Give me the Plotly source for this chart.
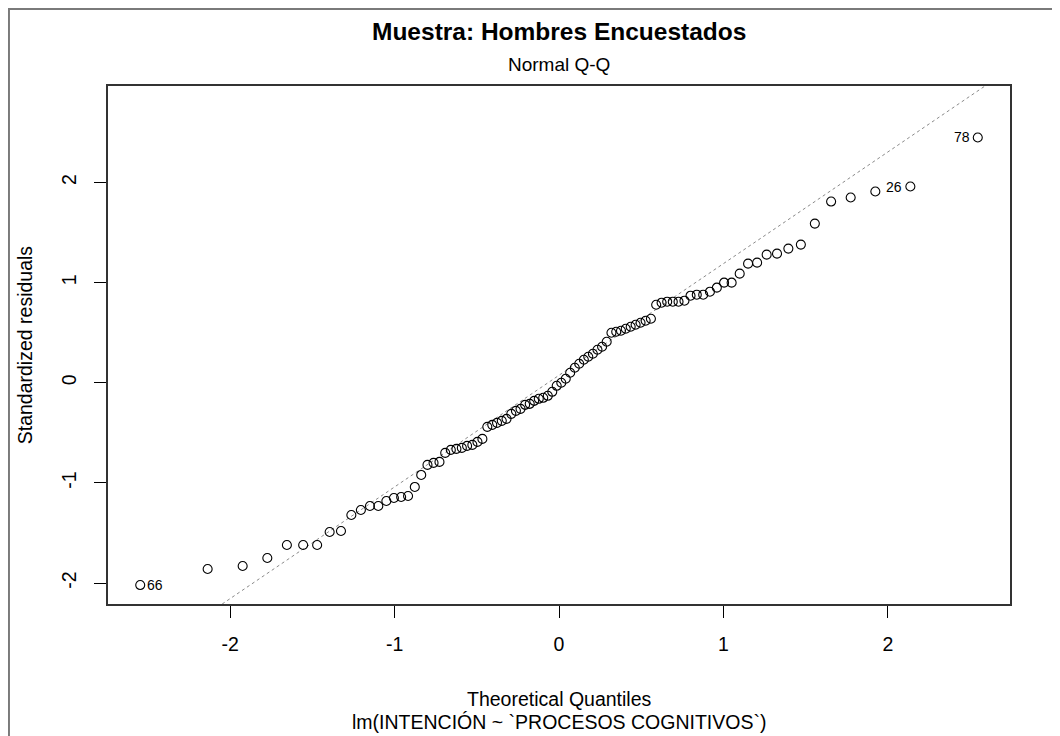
import plotly.graph_objects as go

# Theoretical normal quantiles (x) and sorted standardized residuals (y)
theoretical = [-2.547, -2.137, -1.924, -1.774, -1.655, -1.556, -1.471, -1.395, -1.326, -1.263,
               -1.205, -1.150, -1.099, -1.050, -1.004, -0.960, -0.918, -0.877, -0.838, -0.800,
               -0.763, -0.727, -0.692, -0.658, -0.624, -0.591, -0.559, -0.527, -0.496, -0.466,
               -0.436, -0.406, -0.377, -0.348, -0.319, -0.290, -0.262, -0.234, -0.206, -0.178,
               -0.151, -0.123, -0.096, -0.068, -0.041, -0.014,
               0.014, 0.041, 0.068, 0.096, 0.123, 0.151, 0.178, 0.206, 0.234, 0.262,
               0.290, 0.319, 0.348, 0.377, 0.406, 0.436, 0.466, 0.496, 0.527, 0.559,
               0.591, 0.624, 0.658, 0.692, 0.727, 0.763, 0.800, 0.838, 0.877, 0.918,
               0.960, 1.004, 1.050, 1.099, 1.150, 1.205, 1.263, 1.326, 1.395, 1.471,
               1.556, 1.655, 1.774, 1.924, 2.137, 2.547]

std_resid = [-2.02, -1.86, -1.83, -1.75, -1.62, -1.62, -1.62, -1.49, -1.48, -1.32,
             -1.27, -1.23, -1.23, -1.18, -1.15, -1.14, -1.13, -1.04, -0.92, -0.82,
             -0.80, -0.79, -0.70, -0.67, -0.66, -0.65, -0.63, -0.62, -0.59, -0.56,
             -0.44, -0.42, -0.40, -0.38, -0.36, -0.31, -0.28, -0.26, -0.22, -0.21,
             -0.18, -0.16, -0.15, -0.13, -0.09, -0.03,
             0.00, 0.04, 0.10, 0.15, 0.19, 0.23, 0.26, 0.29, 0.33, 0.36,
             0.41, 0.50, 0.51, 0.52, 0.54, 0.56, 0.58, 0.60, 0.62, 0.64,
             0.78, 0.80, 0.81, 0.81, 0.81, 0.82, 0.87, 0.88, 0.88, 0.91,
             0.95, 1.00, 1.00, 1.09, 1.19, 1.20, 1.28, 1.29, 1.34, 1.38,
             1.59, 1.81, 1.85, 1.91, 1.96, 2.45]

# labelled observations: (position in sorted order, observation id, side)
point_labels = [(0, "66", "right"), (90, "26", "left"), (91, "78", "left")]

# reference line (qqline)
line_slope = 1.115
line_intercept = 0.075

x_ticks = [-2, -1, 0, 1, 2]
x_ticktext = ["-2", "-1", "0", "1", "2"]
y_ticks = [-2, -1, 0, 1, 2]
y_ticktext = ["-2", "-1", "0", "1", "2"]
x_range = [-2.743, 2.743]
y_range = [-2.209, 2.964]

title_text = "Muestra: Hombres Encuestados"
subtitle_text = "Normal Q-Q"
x_title = "Theoretical Quantiles"
x_subtitle = "lm(INTENCIÓN ~ `PROCESOS COGNITIVOS`)"
y_title = "Standardized residuals"

FONT = "Liberation Sans, Arial, sans-serif"

fig = go.Figure()

# reference line spanning the plot
lx = [x_range[0], x_range[1]]
ly = [line_intercept + line_slope * v for v in lx]
fig.add_trace(go.Scatter(x=lx, y=ly, mode="lines",
                         line=dict(color="#8a8a8a", width=1, dash="3px,3px"),
                         hoverinfo="skip", showlegend=False))

fig.add_trace(go.Scatter(x=theoretical, y=std_resid, mode="markers",
                         marker=dict(symbol="circle-open", size=9, color="black",
                                     line=dict(width=1.1, color="black")),
                         showlegend=False))

annotations = []
for idx, lab, side in point_labels:
    annotations.append(dict(x=theoretical[idx], y=std_resid[idx], xref="x", yref="y",
                            text=lab, showarrow=False,
                            xanchor="left" if side == "right" else "right",
                            xshift=5 if side == "right" else -6,
                            yanchor="middle",
                            font=dict(family=FONT, size=14, color="black")))

annotations += [
    dict(text="<b>" + title_text + "</b>", x=0.5, y=1.1044, xref="paper", yref="paper",
         showarrow=False, xanchor="center", yanchor="middle",
         font=dict(family=FONT, size=24.5, color="black")),
    dict(text=subtitle_text, x=0.5, y=1.0407, xref="paper", yref="paper",
         showarrow=False, xanchor="center", yanchor="middle",
         font=dict(family=FONT, size=19, color="black")),
    dict(text=x_title, x=0.5, y=-0.1827, xref="paper", yref="paper",
         showarrow=False, xanchor="center", yanchor="middle",
         font=dict(family=FONT, size=19.5, color="black")),
    dict(text=x_subtitle, x=0.5, y=-0.2271, xref="paper", yref="paper",
         showarrow=False, xanchor="center", yanchor="middle",
         font=dict(family=FONT, size=19.5, color="black")),
    dict(text=y_title, x=-0.0917, y=0.5, xref="paper", yref="paper",
         showarrow=False, xanchor="center", yanchor="middle", textangle=-90,
         font=dict(family=FONT, size=19.5, color="black")),
]

fig.update_layout(
    width=1052, height=728,
    margin=dict(l=100, r=50, t=78, b=132),
    paper_bgcolor="white", plot_bgcolor="white",
    annotations=annotations,
    shapes=[dict(type="rect", xref="paper", yref="paper",
                 x0=-0.1098, y0=-0.5, x1=1.2, y1=1.1486,
                 line=dict(color="#7a7a7a", width=2), layer="below")],
    font=dict(family=FONT, size=19.5, color="black"),
)

fig.update_xaxes(range=x_range, tickvals=x_ticks, ticktext=x_ticktext, ticks="outside", ticklen=12,
                 tickwidth=1, tickcolor="black", showgrid=False, zeroline=False,
                 showline=True, linecolor="#333333", linewidth=1.5, mirror=True,
                 ticklabelstandoff=10, tickfont=dict(family=FONT, size=19.5, color="black"))
fig.update_yaxes(range=y_range, tickvals=y_ticks, ticktext=y_ticktext, ticks="outside", ticklen=12,
                 tickwidth=1, tickcolor="black", showgrid=False, zeroline=False,
                 showline=True, linecolor="#333333", linewidth=1.5, mirror=True,
                 tickangle=-90, ticklabelstandoff=10,
                 tickfont=dict(family=FONT, size=19.5, color="black"))

fig.write_html("out.html")
